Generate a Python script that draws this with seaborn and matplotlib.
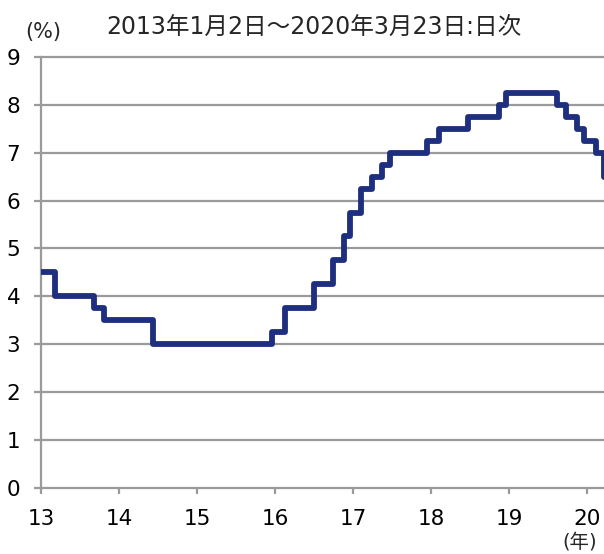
import pandas as pd
import numpy as np
import matplotlib
matplotlib.use('Agg')
import matplotlib.pyplot as plt
import seaborn as sns

# policy rate change dates and levels (%)
dates = ['2013-01-02', '2013-03-08', '2013-09-06', '2013-10-25', '2014-06-09',
         '2015-12-18', '2016-02-18', '2016-07-01', '2016-09-30', '2016-11-18',
         '2016-12-16', '2017-02-10', '2017-03-31', '2017-05-19', '2017-06-23',
         '2017-12-15', '2018-02-09', '2018-06-22', '2018-11-16', '2018-12-21',
         '2019-08-16', '2019-09-27', '2019-11-15', '2019-12-20', '2020-02-14',
         '2020-03-20', '2020-03-23']
rates = [4.5, 4.0, 3.75, 3.5, 3.0,
         3.25, 3.75, 4.25, 4.75, 5.25,
         5.75, 6.25, 6.5, 6.75, 7.0,
         7.25, 7.5, 7.75, 8.0, 8.25,
         8.0, 7.75, 7.5, 7.25, 7.0,
         6.5, 6.5]
year_ticks = [13, 14, 15, 16, 17, 18, 19, 20]
y_ticks = list(range(0, 10))

d = pd.to_datetime(dates)
frac_year = d.year - 2000 + (d.dayofyear - 1) / 365.25
df = pd.DataFrame({'year': frac_year, 'rate': rates})

sns.set_style('white')
plt.rcParams['font.family'] = ['DejaVu Sans', 'Noto Sans CJK JP']

fig = plt.figure(figsize=(6.04, 5.54), dpi=100)
ax = fig.add_axes([0.068, 0.12, 0.932, 0.777])

grid_col = '#9a9a9a'
for y in y_ticks:
    ax.axhline(y, color=grid_col, lw=1.6, zorder=1, clip_on=False)

sns.lineplot(data=df, x='year', y='rate', ax=ax, color='#1f2f7f', lw=4.2,
             drawstyle='steps-post', zorder=3)

ax.set_xlim(13, 20.22)
ax.set_ylim(0, 9)
ax.set_xticks(year_ticks)
ax.set_xticklabels([str(t) for t in year_ticks])
ax.set_yticks(y_ticks)
ax.set_xlabel('')
ax.set_ylabel('')

for s in ['top', 'right', 'bottom']:
    ax.spines[s].set_visible(False)
ax.spines['left'].set_color(grid_col)
ax.spines['left'].set_linewidth(1.6)

ax.tick_params(axis='both', labelsize=15.5, colors=grid_col, labelcolor='black')
ax.tick_params(axis='y', length=5, width=1.6, pad=10, direction='out', left=True)
ax.tick_params(axis='x', length=4.5, width=1.6, pad=11, direction='out', bottom=True)

fig.text(0.071, 0.942, '(%)', fontsize=15, ha='center', va='center')
fig.text(0.52, 0.951, '2013年1月2日～2020年3月23日:日次', fontsize=17,
         ha='center', va='center')
fig.text(0.96, 0.022, '(年)', fontsize=14, ha='center', va='center')

plt.savefig('out.png', dpi=100)
